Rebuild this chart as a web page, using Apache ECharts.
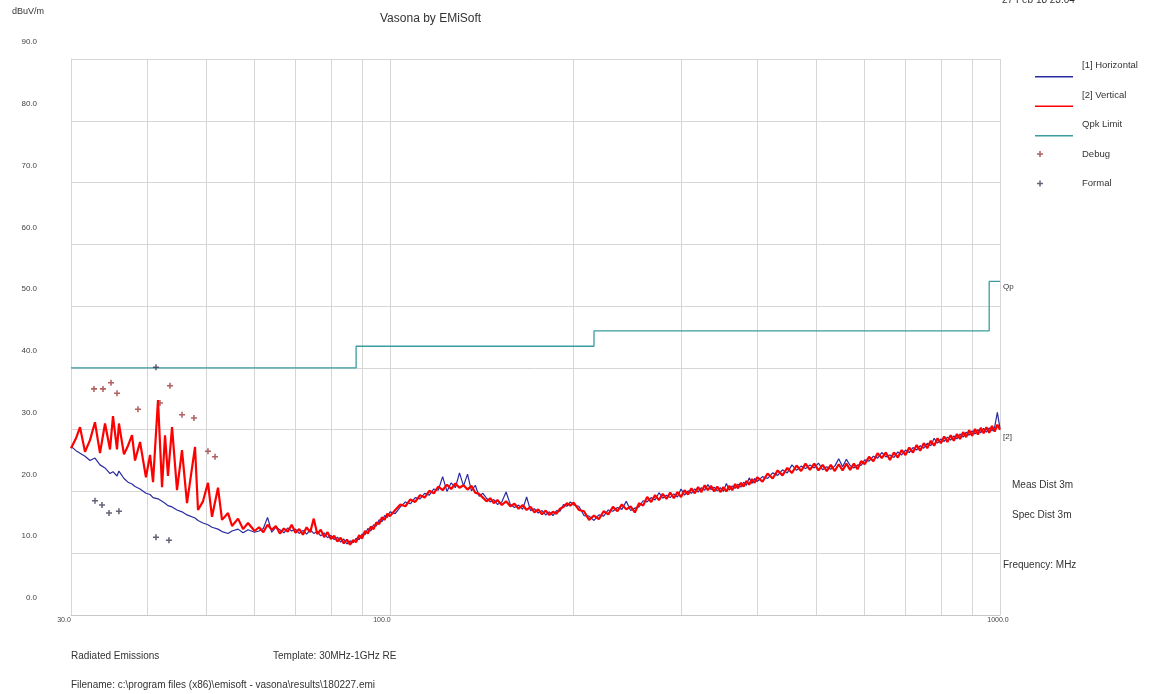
<!DOCTYPE html>
<html><head><meta charset="utf-8">
<script src="https://cdn.jsdelivr.net/npm/echarts@6/dist/echarts.min.js"></script>
<style>html,body{margin:0;padding:0;background:#fff}#c{width:1150px;height:694px}</style>
</head><body><div id="c"></div>
<script>
const freqMHz = [
30.00,30.57,31.04,31.63,32.23,32.84,33.47,34.11,34.76,35.15,35.69,35.95,36.64,37.20,37.77,38.20,38.93,39.81,40.43,40.89,41.66,42.30,42.78,43.26,43.93,44.76,45.61,46.48,47.91,48.45,49.37,50.31,51.08,52.25,53.05,54.27,55.09,56.36,57.43,58.52,60.00,
61,62,63,64,65,66,67,68,69,70,71,72,73,74,75,76,77,78,79,80,81,82,83,84,85,86,87,88,89,90,91,92,93,94,95,96,97,98,99,100,
102,104,106,108,110,112,114,116,118,120,122,124,126,128,130,132,134,136,138,140,142,144,146,148,150,
152.5,155,157.5,160,162.5,165,167.5,170,172.5,175,177.5,180,182.5,185,187.5,190,192.5,195,197.5,200,
204,208,212,216,220,224,228,232,236,240,244,248,252,256,260,264,268,272,276,280,284,288,292,296,300,
304,308,312,316,320,324,328,332,336,340,344,348,352,356,360,364,368,372,376,380,384,388,392,396,400,
408,416,424,432,440,448,456,464,472,480,488,496,504,512,520,528,536,544,552,560,568,576,584,592,600,
610,620,630,640,650,660,670,680,690,700,710,720,730,740,750,760,770,780,790,800,
810,820,830,840,850,860,870,880,890,900,910,920,930,940,950,960,970,980,990,1000
];
const horizontalDb = [
27.3,26.6,26.2,25.7,25.0,25.4,24.3,23.8,22.9,23.2,22.5,23.3,22.1,21.5,21.2,20.8,20.4,19.7,19.5,19.0,18.8,18.4,18.1,17.7,17.5,17.0,16.7,16.2,15.7,15.3,14.9,14.6,14.2,13.9,13.5,13.2,13.6,13.9,13.3,13.8,13.4,
13.6,14.0,15.8,13.4,14.2,13.8,13.3,14.1,13.6,13.9,13.2,13.7,13.1,13.8,13.2,13.5,12.8,13.3,12.5,12.9,12.2,12.6,11.8,12.3,11.5,12.0,11.7,12.4,12.2,13.1,13.0,14.0,13.6,14.6,14.4,15.4,15.1,16.1,15.8,16.7,
16.4,17.5,18.3,18.0,19.0,18.8,19.7,19.4,20.4,20.2,22.4,20.0,21.4,20.6,23.0,20.9,22.8,20.1,21.0,19.2,19.7,18.9,18.3,18.7,17.9,
18.3,19.9,17.9,17.4,17.8,17.1,19.1,16.9,17.2,16.5,16.9,16.2,16.7,16.1,16.9,16.8,17.9,17.6,18.3,17.8,
17.6,16.1,16.0,15.3,16.2,16.0,17.0,16.8,17.4,17.1,18.4,16.9,17.3,17.5,18.5,18.3,19.0,18.6,19.8,18.9,19.4,19.0,19.6,19.1,20.4,
19.4,20.1,19.7,20.4,19.9,20.6,20.2,21.1,20.3,20.7,20.1,20.6,20.0,21.3,20.2,20.9,20.5,21.2,20.7,21.5,21.0,22.2,21.3,22.1,21.6,
22.4,22.1,23.0,22.6,23.5,23.0,24.3,23.4,24.1,23.7,24.3,23.8,24.6,23.5,24.0,23.6,24.1,25.3,24.0,25.2,24.2,23.8,24.3,24.2,25.1,
24.9,25.7,25.4,26.3,25.6,25.9,25.5,26.4,25.9,26.7,26.3,27.1,26.7,27.4,27.0,27.8,27.4,28.6,27.8,28.5,
28.1,28.8,28.3,29.0,28.5,29.3,28.8,29.6,29.1,29.8,29.3,30.0,29.5,30.2,29.6,30.3,29.8,30.4,32.8,30.2
];
const verticalDb = [
27.0,28.6,30.4,26.4,28.3,31.2,26.2,31.0,26.8,32.2,26.8,31.0,26.0,27.4,29.1,25.0,28.0,22.3,25.9,21.5,34.8,20.7,29.1,22.5,30.4,20.2,26.7,18.1,27.2,17.0,18.4,21.4,15.9,20.6,15.4,16.5,14.4,15.6,13.9,14.9,13.6,
14.2,13.4,14.6,13.8,14.4,13.2,14.0,13.5,14.6,13.3,13.9,13.0,14.2,13.4,15.6,13.1,13.8,12.6,13.4,12.3,12.8,11.9,12.5,11.6,12.2,11.4,12.1,11.8,12.9,12.4,13.6,13.2,14.3,13.9,15.0,14.7,15.8,15.4,16.4,16.0,
17.0,17.9,17.6,18.7,18.3,19.4,19.0,20.1,19.7,20.8,20.2,21.1,20.4,21.3,20.6,21.0,20.3,20.9,19.8,19.6,19.0,18.4,18.9,18.1,18.6,
17.8,18.4,17.6,18.0,17.2,17.8,17.0,17.5,16.6,17.1,16.3,16.9,16.2,16.7,16.4,17.2,17.5,18.1,17.7,18.2,
17.0,16.8,15.4,16.1,15.5,16.8,16.3,17.5,16.8,17.9,17.1,17.6,16.6,18.1,17.7,19.1,18.3,19.4,18.6,19.6,18.8,19.8,18.9,19.9,19.1,
20.2,19.5,20.5,19.7,20.7,19.9,21.0,20.2,20.9,20.0,20.8,19.9,20.7,20.0,20.9,20.2,21.2,20.5,21.4,20.8,21.7,21.1,22.0,21.4,22.3,
21.6,22.9,22.1,23.4,22.6,23.8,23.0,24.2,23.3,24.5,23.5,24.5,23.4,24.3,23.3,24.3,23.3,24.4,23.4,24.5,23.5,24.5,23.6,24.9,24.4,
25.6,24.9,26.2,25.4,26.3,25.1,26.3,25.5,26.7,25.9,27.1,26.3,27.5,26.6,27.8,27.0,28.2,27.4,28.6,27.8,
28.9,28.0,29.1,28.2,29.3,28.5,29.6,28.8,29.9,29.0,30.1,29.2,30.3,29.4,30.4,29.5,30.6,29.7,30.8,30.0
];
const qpkFreqMHz = [30, 88, 88, 216, 216, 960, 960, 1000];
const qpkLimitDb = [40, 40, 43.5, 43.5, 46, 46, 54, 54];
const debugFreqMHz = [32.72, 33.85, 34.89, 35.69, 38.63, 41.97, 43.59, 45.61, 47.72, 50.31, 51.67];
const debugDb = [36.6, 36.6, 37.6, 35.9, 33.3, 34.3, 37.1, 32.4, 31.9, 26.5, 25.6];
const formalFreqMHz = [41.34, 32.84, 33.72, 34.63, 35.95, 41.34, 43.42];
const formalDb = [40.1, 18.5, 17.8, 16.5, 16.8, 12.6, 12.1];
const gridFreqMHz = [40, 50, 60, 70, 80, 90, 100, 200, 300, 400, 500, 600, 700, 800, 900, 1000];
const xTickFreqMHz = [30, 100, 1000];
const xTickLabels = ['30.0', '100.0', '1000.0'];

const FONT = '"Liberation Sans", Arial, sans-serif';
const pairs = (xs, ys) => xs.map((x, i) => [x, ys[i]]);
const lineIcon = 'path://M0,0M38,24M0,22.6H38V24H0Z';
const plusIcon = 'path://M0,0M38,24M2,11.25H4.25V9H5.75V11.25H8V12.75H5.75V15H4.25V12.75H2Z';
const plusSymbol = 'path://M2.6,0H4.4V2.6H7V4.4H4.4V7H2.6V4.4H0V2.6H2.6Z';
const labelShift = [-7, -8, -2];

const txt = (text, left, top, size) => ({
  text, left, top, padding: 0,
  textStyle: { fontSize: size, color: '#333', fontWeight: 'normal', fontFamily: FONT }
});

const chart = echarts.init(document.getElementById('c'), null, { renderer: 'canvas' });
chart.setOption({
  animation: false,
  backgroundColor: '#fff',
  title: [
    txt('dBuV/m', 12, 7, 9),
    txt('Vasona by EMiSoft', 380, 13, 12),
    txt('27 Feb 18 23:04', 1002, -5, 10),
    txt('Radiated Emissions', 71, 651, 10),
    txt('Template: 30MHz-1GHz RE', 273, 651, 10),
    txt('Filename: c:\\program files (x86)\\emisoft - vasona\\results\\180227.emi', 71, 680, 10),
    txt('Meas Dist 3m', 1012, 480, 10),
    txt('Spec Dist 3m', 1012, 510, 10),
    txt('Frequency: MHz', 1003, 560, 10)
  ],
  legend: {
    orient: 'vertical', left: 1035, top: 53.5, padding: 0,
    itemWidth: 38, itemHeight: 24, itemGap: 5.5,
    selectedMode: false,
    itemStyle: { borderWidth: 0 },
    textStyle: { fontSize: 9.5, color: '#333', fontFamily: FONT, padding: [0, 0, 0, 4] },
    data: [
      { name: '[1] Horizontal', icon: lineIcon },
      { name: '[2] Vertical', icon: lineIcon },
      { name: 'Qpk Limit', icon: lineIcon },
      { name: 'Debug', icon: plusIcon },
      { name: 'Formal', icon: plusIcon }
    ]
  },
  grid: { left: 71, right: 150, top: 59, bottom: 79, containLabel: false },
  xAxis: {
    type: 'log', logBase: 10, min: 30, max: 1000,
    axisLine: { show: true, lineStyle: { color: '#c8c8c8', width: 1 } },
    axisTick: { show: false }, axisLabel: { show: false },
    splitLine: { show: false }, minorSplitLine: { show: false }
  },
  yAxis: {
    type: 'value', min: 0, max: 90, interval: 10,
    axisLine: { show: true, lineStyle: { color: '#c8c8c8', width: 1 } },
    axisTick: { show: false },
    axisLabel: {
      margin: 34,
      formatter: v => '{a|' + v.toFixed(1) + '}\n{b|}',
      rich: {
        a: { fontSize: 8, lineHeight: 10, color: '#444', fontFamily: FONT },
        b: { fontSize: 8, lineHeight: 34 }
      }
    },
    splitLine: { show: true, lineStyle: { color: '#d6d6d6', width: 1 } }
  },
  series: [
    {
      name: 'grid', type: 'line', data: [], silent: true,
      markLine: {
        silent: true, symbol: ['none', 'none'], z: 1, animation: false,
        lineStyle: { color: '#d6d6d6', width: 1, type: 'solid' },
        label: { show: false },
        emphasis: { disabled: true },
        data: gridFreqMHz.map(f => ({ xAxis: f })).concat(xTickFreqMHz.map((f, i) => ({
          xAxis: f,
          label: { show: true, position: 'start', distance: 2, formatter: xTickLabels[i],
            fontSize: 7, color: '#444', fontFamily: FONT, offset: [labelShift[i], 0] }
        })))
      }
    },
    {
      name: '[1] Horizontal', type: 'line', data: pairs(freqMHz, horizontalDb),
      showSymbol: false, symbol: 'none', color: '#2a2aa0',
      lineStyle: { color: '#2a2aa0', width: 1.2 }, z: 2
    },
    {
      name: '[2] Vertical', type: 'line', data: pairs(freqMHz, verticalDb),
      showSymbol: false, symbol: 'none', color: '#ff0000',
      lineStyle: { color: '#ff0000', width: 2.2 }, z: 3,
      endLabel: { show: true, formatter: '[2]', distance: 3, offset: [0, 7], fontSize: 8, color: '#333', fontFamily: FONT }
    },
    {
      name: 'Qpk Limit', type: 'line', data: pairs(qpkFreqMHz, qpkLimitDb),
      showSymbol: false, symbol: 'none', color: '#3a9c9e',
      lineStyle: { color: '#3a9c9e', width: 1.3 }, z: 4,
      endLabel: { show: true, formatter: 'Qp', distance: 3, offset: [0, 5], fontSize: 8, color: '#333', fontFamily: FONT }
    },
    {
      name: 'Debug', type: 'scatter', data: pairs(debugFreqMHz, debugDb),
      symbol: plusSymbol, symbolSize: 6, itemStyle: { color: '#9c3a3a' }, z: 5
    },
    {
      name: 'Formal', type: 'scatter', data: pairs(formalFreqMHz, formalDb),
      symbol: plusSymbol, symbolSize: 6, itemStyle: { color: '#3c3c58' }, z: 5
    }
  ]
});
</script>
</body></html>
